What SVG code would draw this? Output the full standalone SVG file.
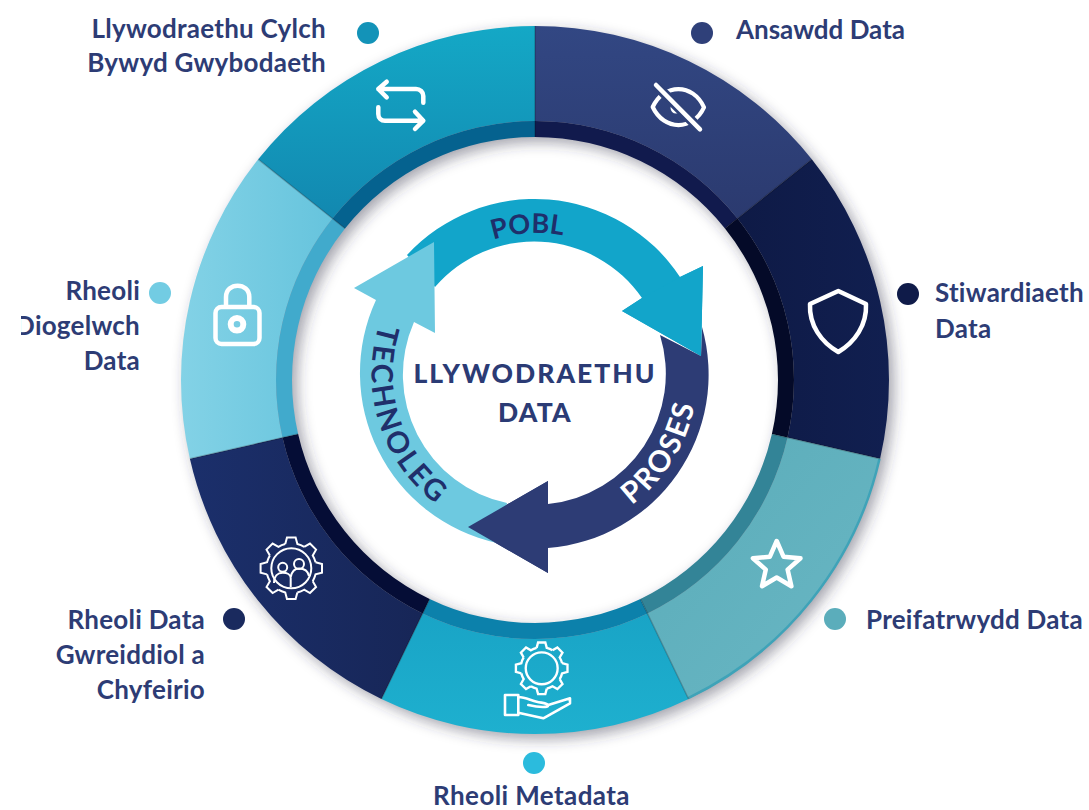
<svg xmlns="http://www.w3.org/2000/svg" xmlns:xlink="http://www.w3.org/1999/xlink" width="1089" height="810" viewBox="0 0 1089 810">
<style>
text{font-family:"Lato","Liberation Sans",sans-serif;font-weight:700}
.lab{font-size:26px;fill:#2d3c75;letter-spacing:.25px}
.end{text-anchor:end}
.ctr{font-size:26.5px;fill:#2b3b75;text-anchor:middle;letter-spacing:1.2px;font-weight:900}
.arc{font-size:27px;text-anchor:middle}
.arc2{font-size:29.5px;text-anchor:middle;letter-spacing:2px}
.ic{fill:none;stroke:#fff;stroke-width:4.5;stroke-linecap:round;stroke-linejoin:round}
.th{fill:none;stroke:#fff;stroke-linejoin:miter}
.seam{fill:none;stroke:#000;stroke-opacity:.2;stroke-width:1.5}
</style>
<defs>
<filter id="blur" filterUnits="userSpaceOnUse" x="100" y="0" width="900" height="810"><feGaussianBlur stdDeviation="7"/></filter>
<clipPath id="clipD"><rect x="21" y="300" width="140" height="50"/></clipPath>
<linearGradient id="g1" x1="0" y1="0" x2="0" y2="1"><stop offset="0" stop-color="#324783"/><stop offset="1" stop-color="#2b3a6f"/></linearGradient>
<linearGradient id="g2" x1="0" y1="0" x2="1" y2="0"><stop offset="0" stop-color="#0e1a46"/><stop offset="1" stop-color="#111f50"/></linearGradient>
<linearGradient id="g3" x1="0" y1="0" x2="1" y2="1"><stop offset="0" stop-color="#5aacb9"/><stop offset="1" stop-color="#6ab7c4"/></linearGradient>
<linearGradient id="g4" x1="0" y1="0" x2="0" y2="1"><stop offset="0" stop-color="#19a4c6"/><stop offset="1" stop-color="#1eb0cf"/></linearGradient>
<linearGradient id="g5" x1="0" y1="0" x2="1" y2="0"><stop offset="0" stop-color="#1b2f6b"/><stop offset="1" stop-color="#172657"/></linearGradient>
<linearGradient id="g6" x1="0" y1="0" x2="1" y2="0"><stop offset="0" stop-color="#83d2e6"/><stop offset="1" stop-color="#66c4dd"/></linearGradient>
<linearGradient id="g7" x1="0" y1="0" x2="0" y2="1"><stop offset="0" stop-color="#14a8c6"/><stop offset="1" stop-color="#1288b0"/></linearGradient>
<path id="tooth" d="M-6.05 -24.26L-4.31 -30.7L4.31 -30.7L6.05 -24.26A25 25 0 0 1 12.88 -21.43"/>
<g id="gear">
<use xlink:href="#tooth"/><use xlink:href="#tooth" transform="rotate(45)"/><use xlink:href="#tooth" transform="rotate(90)"/><use xlink:href="#tooth" transform="rotate(135)"/><use xlink:href="#tooth" transform="rotate(180)"/><use xlink:href="#tooth" transform="rotate(225)"/><use xlink:href="#tooth" transform="rotate(270)"/><use xlink:href="#tooth" transform="rotate(315)"/>
</g>
<path id="pPobl" d="M458.7 256.4A141 141 0 0 1 599.4 247.8"/>
<path id="pProses" d="M598.2 524.1A163 163 0 0 0 697.3 365.5"/>
<path id="pTech" d="M404.3 275.9A163 163 0 0 0 486.8 529.9"/>
</defs>
<rect width="1089" height="810" fill="#fff"/>
<circle cx="540" cy="385" r="298.5" fill="none" stroke="#34344a" stroke-opacity=".45" stroke-width="111" filter="url(#blur)"/>

<g id="ansawdd-data">
<path d="M535 26A354 354 0 0 1 811.8 159.3L737.5 218.5A259 259 0 0 0 535 121Z" fill="url(#g1)"/>
<path d="M535 121A259 259 0 0 1 737.5 218.5L725 228.5A243 243 0 0 0 535 137Z" fill="#111a4d"/>
<path class="ic" d="M652.7 107C664 83 693 83 704 107.3C693 131 664 131 652.7 107Z" style="stroke-width:4.2"/>
<circle cx="676" cy="108" r="5.5" fill="#fff"/>
<path d="M701 130.3L654.7 84" fill="none" stroke="#2f4279" stroke-width="10"/>
<path class="ic" d="M656 85L700 129.3"/>
<circle cx="702" cy="33" r="11" fill="#2f4079"/>
<text class="lab" x="736" y="39" style="letter-spacing:0">Ansawdd Data</text>
</g>

<g id="stiwardiaeth-data">
<path d="M811.8 159.3A354 354 0 0 1 880.1 458.8L787.5 437.6A259 259 0 0 0 737.5 218.5Z" fill="url(#g2)"/>
<path d="M737.5 218.5A259 259 0 0 1 787.5 437.6L771.9 434.1A243 243 0 0 0 725 228.5Z" fill="#040a28"/>
<path class="ic" d="M838.3 291L866 304C867 325 855 342 838.3 352C821 342 809 325 810 304Z"/>
<circle cx="908" cy="294" r="11" fill="#0f1b49"/>
<text class="lab" x="935" y="302">Stiwardiaeth</text>
<text class="lab" x="935" y="338">Data</text>
</g>

<g id="preifatrwydd-data">
<path d="M880.1 458.8A354 354 0 0 1 688.6 699L647.4 613.4A259 259 0 0 0 787.5 437.6Z" fill="url(#g3)"/>
<path d="M787.5 437.6A259 259 0 0 1 647.4 613.4L640.4 598.9A243 243 0 0 0 771.9 434.1Z" fill="#338497"/>
<path d="M879.5 458.7A353 353 0 0 1 688.2 698.1" fill="none" stroke="#3fa3b8" stroke-width="2.5"/>
<path class="ic" d="M776.7 541L783.5 556.7L800.5 558.3L787.6 569.6L791.4 586.2L776.7 577.5L762 586.2L765.8 569.6L752.9 558.3L769.9 556.7Z"/>
<circle cx="835" cy="619" r="11" fill="#5badbb"/>
<text class="lab" x="866" y="629">Preifatrwydd Data</text>
</g>

<g id="rheoli-metadata">
<path d="M688.6 699A354 354 0 0 1 381.4 699L422.6 613.4A259 259 0 0 0 647.4 613.4Z" fill="url(#g4)"/>
<path d="M647.4 613.4A259 259 0 0 1 422.6 613.4L429.6 598.9A243 243 0 0 0 640.4 598.9Z" fill="#0c81ab"/>
<g transform="translate(541.7 668.3) scale(.84)" class="th" stroke-width="2.8"><use xlink:href="#gear"/><circle r="19" fill="none" stroke="#fff"/></g>
<path class="ic" style="stroke-width:2.6" d="M505 695H518.3V715H505ZM518.3 697C525 697 530 700 536.7 701.7C542 703 548.3 703 548.3 705.5C548.3 707.5 540 707.5 528.3 705M548.3 705L570 698.3V703.3L543.3 718.3L518.3 712.7"/>
<circle cx="534" cy="763" r="11" fill="#2bbbdd"/>
<text class="lab" x="531.5" y="805" text-anchor="middle" style="letter-spacing:.4px">Rheoli Metadata</text>
</g>

<g id="rheoli-data-gwreiddiol">
<path d="M381.4 699A354 354 0 0 1 189.9 458.8L282.5 437.6A259 259 0 0 0 422.6 613.4Z" fill="url(#g5)"/>
<path d="M422.6 613.4A259 259 0 0 1 282.5 437.6L298.1 434.1A243 243 0 0 0 429.6 598.9Z" fill="#050d36"/>
<g transform="translate(291.3 568.3)" class="th" stroke-width="2"><use xlink:href="#gear"/><circle r="20" fill="none" stroke="#fff"/></g>
<g fill="none" stroke="#fff" stroke-width="2">
<circle cx="282.7" cy="567.3" r="4.5"/><circle cx="299" cy="564" r="5"/>
<path d="M274 583C274 576 278 572.7 282.7 572.7C287 572.7 290.7 574.5 290.7 578V587M290.7 577C292 571 295 568.5 299 568.5C304 568.5 308 571 309 576"/>
</g>
<circle cx="234" cy="619" r="11" fill="#1a2a5e"/>
<text class="lab end" x="205" y="629">Rheoli Data</text>
<text class="lab end" x="205" y="664">Gwreiddiol a</text>
<text class="lab end" x="205" y="699">Chyfeirio</text>
</g>

<g id="rheoli-diogelwch-data">
<path d="M189.9 458.8A354 354 0 0 1 258.2 159.3L332.5 218.5A259 259 0 0 0 282.5 437.6Z" fill="url(#g6)"/>
<path d="M282.5 437.6A259 259 0 0 1 332.5 218.5L345 228.5A243 243 0 0 0 298.1 434.1Z" fill="#41aacc"/>
<rect class="ic" x="215.5" y="307" width="44" height="37" rx="6"/>
<path class="ic" d="M226 306V297C226 282 249.3 282 249.3 297V306"/>
<circle cx="237" cy="324.3" r="6.3" fill="none" stroke="#fff" stroke-width="6"/>
<circle cx="160" cy="293" r="11" fill="#72cce3"/>
<text class="lab end" x="140" y="300">Rheoli</text>
<text class="lab end" x="140" y="335" clip-path="url(#clipD)">Diogelwch</text>
<text class="lab end" x="140" y="370">Data</text>
</g>

<g id="llywodraethu-cylch-bywyd">
<path d="M258.2 159.3A354 354 0 0 1 535 26L535 121A259 259 0 0 0 332.5 218.5Z" fill="url(#g7)"/>
<path d="M332.5 218.5A259 259 0 0 1 535 121L535 137A243 243 0 0 0 345 228.5Z" fill="#05628f"/>
<path class="ic" d="M386.7 81.7L378.3 89L386.7 97.3M378.3 89H416C420 89 423.3 92 423.3 96V102.7M378.3 107.3V114C378.3 118 381 120.7 385 120.7H423.3M415 111.7L423.3 120.7L415 129"/>
<circle cx="368" cy="33" r="11" fill="#1393b8"/>
<text class="lab end" x="326" y="38">Llywodraethu Cylch</text>
<text class="lab end" x="326" y="72">Bywyd Gwybodaeth</text>
</g>
<path class="seam" d="M535 26V137M811.8 159.3L725 228.5M880.1 458.8L771.9 434.1M688.6 699L640.4 598.9M381.4 699L429.6 598.9M189.9 458.8L298.1 434.1M258.2 159.3L345 228.5"/>

<g id="connectors">
<path id="arrow-pobl" d="M407 255A174 174 0 0 1 680 277L703 266L701 356L622 311L642 298A131 131 0 0 0 435 287Z" fill="#12a5ca"/>
<path id="arrow-proses" d="M702 327A174 174 0 0 1 548 548L548 573L468 527L548 481L548 504A131 131 0 0 0 660 335L701 356Z" fill="#2d3c75"/>
<path id="arrow-technoleg" d="M497 543A174 174 0 0 1 376 300L354 288L434 242L435 333L414 322A131 131 0 0 0 507 503Z" fill="#6dc9e0"/>
<path d="M548 481L468 527L548 573Z" fill="#2d3c75"/>
<path d="M703 266L701 356L622 311L642 298L680 277Z" fill="#12a5ca"/>
<text class="arc" fill="#1f2f6b"><textPath xlink:href="#pPobl" startOffset="50%">POBL</textPath></text>
<text class="arc2" fill="#fff"><textPath xlink:href="#pProses" startOffset="50%">PROSES</textPath></text>
<text class="arc2" fill="#1f2f6b" style="letter-spacing:3px"><textPath xlink:href="#pTech" startOffset="50%">TECHNOLEG</textPath></text>
</g>

<g id="centre">
<text class="ctr" x="535" y="383" style="letter-spacing:2px">LLYWODRAETHU</text>
<text class="ctr" x="535" y="422">DATA</text>
</g>
</svg>
